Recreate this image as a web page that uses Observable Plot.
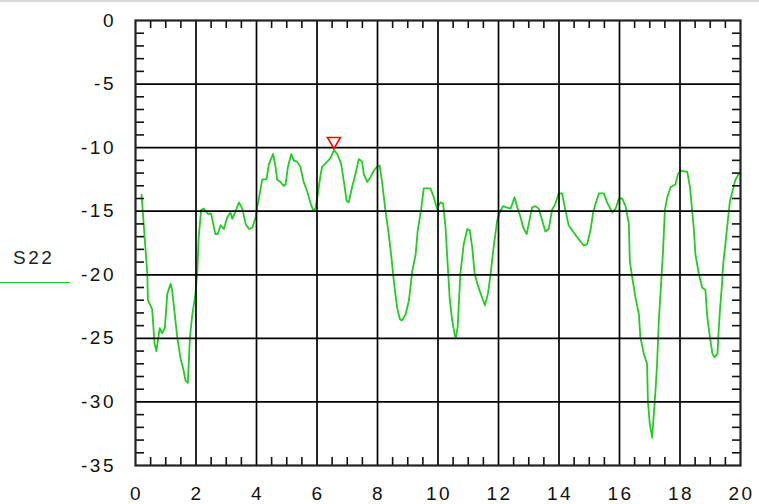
<!DOCTYPE html>
<html>
<head>
<meta charset="utf-8">
<script src="https://cdn.jsdelivr.net/npm/d3@7"></script>
<script src="https://cdn.jsdelivr.net/npm/@observablehq/plot@0.6"></script>
<style>
  body { margin: 0; background: #fff; }
  #wrap { position: relative; width: 759px; height: 504px; overflow: hidden; }
  #topbar { position: absolute; left: 0; top: 0; width: 759px; height: 2px; background: #d9d9d9; }
  #legend-label { position: absolute; left: 13px; top: 247px; font: 19px "Liberation Sans", Arial, sans-serif; letter-spacing: 2.5px; color: #222; }
  #legend-line { position: absolute; left: 0; top: 281.5px; width: 70px; height: 1.8px; background: #22cc22; }
  .chart g[aria-label$="tick label"] text { letter-spacing: 2.5px; }
</style>
</head>
<body>
<div id="wrap"><div id="topbar"></div></div>
<script>
// Frequency (x) values
const freq = [0.2,0.25,0.3,0.39,0.41,0.55,0.63,0.69,0.8,0.88,0.97,1.05,1.16,1.21,1.38,1.49,1.58,1.65,1.73,1.8,1.87,1.98,2.04,2.09,2.17,2.25,2.39,2.5,2.64,2.72,2.81,2.92,3.03,3.14,3.2,3.31,3.42,3.53,3.64,3.75,3.86,3.97,4.02,4.08,4.19,4.33,4.41,4.46,4.55,4.63,4.68,4.79,4.9,4.96,5.04,5.15,5.23,5.34,5.45,5.56,5.67,5.79,5.87,5.95,6.03,6.12,6.17,6.34,6.45,6.56,6.67,6.8,6.89,6.98,7.05,7.16,7.27,7.38,7.49,7.55,7.66,7.77,7.88,7.99,8.07,8.15,8.26,8.37,8.45,8.54,8.65,8.74,8.81,8.93,9.04,9.15,9.26,9.33,9.44,9.53,9.64,9.75,9.86,9.97,10.08,10.17,10.25,10.3,10.39,10.47,10.55,10.59,10.65,10.74,10.85,10.97,11.05,11.13,11.21,11.3,11.4,11.55,11.65,11.74,11.85,11.96,12.04,12.15,12.26,12.4,12.53,12.62,12.73,12.82,12.93,13.0,13.11,13.22,13.33,13.44,13.55,13.66,13.77,13.88,13.99,14.1,14.21,14.32,14.49,14.65,14.82,14.93,15.04,15.13,15.21,15.32,15.48,15.59,15.76,15.87,15.98,16.09,16.2,16.31,16.34,16.42,16.53,16.64,16.69,16.8,16.91,16.94,17.0,17.08,17.13,17.19,17.24,17.3,17.38,17.44,17.5,17.58,17.69,17.85,17.93,18.02,18.24,18.33,18.4,18.46,18.51,18.62,18.73,18.84,18.9,18.99,19.07,19.14,19.24,19.27,19.32,19.38,19.43,19.49,19.57,19.65,19.74,19.82,19.93,20.0];
// S22 (dB) values
const s22 = [-13.7,-15.3,-17.0,-19.9,-22.0,-22.7,-25.4,-26.0,-24.2,-24.6,-24.2,-21.5,-20.7,-21.2,-24.9,-26.6,-27.4,-28.3,-28.5,-24.9,-23.3,-21.5,-19.9,-17.0,-14.9,-14.8,-15.2,-15.2,-16.8,-16.8,-16.1,-16.4,-15.5,-15.1,-15.6,-15.0,-14.3,-14.8,-16.0,-16.4,-16.3,-15.5,-14.7,-14.0,-12.5,-12.5,-11.3,-11.0,-10.5,-11.5,-12.5,-12.7,-13.0,-12.9,-11.5,-10.5,-11.0,-11.1,-11.5,-12.7,-13.4,-14.4,-14.9,-14.8,-13.6,-12.1,-11.5,-11.1,-10.8,-10.2,-10.5,-11.3,-12.7,-14.2,-14.3,-13.1,-12.1,-10.9,-11.1,-12.1,-12.7,-12.3,-11.8,-11.5,-11.4,-12.7,-14.9,-16.8,-18.4,-20.5,-22.6,-23.5,-23.6,-23.1,-22.0,-19.7,-18.4,-16.5,-14.9,-13.2,-13.2,-13.2,-13.9,-14.8,-14.3,-14.4,-16.3,-18.4,-22.0,-23.6,-24.7,-25.0,-24.1,-19.9,-17.6,-16.4,-16.5,-17.8,-19.9,-20.7,-21.4,-22.4,-21.5,-19.9,-17.6,-15.7,-15.1,-14.6,-14.7,-14.8,-13.9,-14.7,-15.5,-16.3,-16.8,-16.0,-14.7,-14.6,-14.8,-15.7,-16.6,-16.4,-14.9,-14.4,-13.6,-13.6,-14.9,-16.1,-16.7,-17.2,-17.7,-17.6,-16.5,-15.1,-14.4,-13.6,-13.6,-14.3,-15.1,-14.8,-14.0,-14.0,-14.6,-16.0,-18.9,-20.2,-21.8,-23.1,-24.9,-26.2,-27.0,-30.0,-31.7,-32.8,-31.1,-29.1,-27.1,-23.6,-20.5,-18.1,-14.9,-13.9,-13.1,-12.9,-12.1,-11.8,-11.9,-13.1,-14.9,-16.5,-18.4,-19.9,-21.0,-21.2,-23.3,-24.9,-26.2,-26.5,-26.2,-24.7,-22.8,-21.0,-19.1,-17.8,-16.0,-14.2,-13.4,-12.6,-12.1,-12.0];
// Marker position (peak)
const markerX = [6.56];
const markerY = [-10.2];
// Series name
const seriesName = "S22";
// Axis ticks and labels
const xTicks = [0,2,4,6,8,10,12,14,16,18,20];
const xTickLabels = ["0","2","4","6","8","10","12","14","16","18","20"];
const yTicks = [0,-5,-10,-15,-20,-25,-30,-35];
const yTickLabels = ["0","-5","-10","-15","-20","-25","-30","-35"];
const xGrid = [2,4,6,8,10,12,14,16,18];
const yGrid = [-5,-10,-15,-20,-25,-30];
const xMinor = d3.range(0, 20.01, 0.5).filter(v => v % 2 !== 0);
const yMinor = d3.range(-35, 0.01, 1).filter(v => v % 5 !== 0);

const series = freq.map((f, i) => ({f, v: s22[i]}));
const marker = markerX.map((x, i) => ({x, y: markerY[i]}));

const W = 759, H = 504, ML = 135, MR = 19, MT = 20, MB = 39;
const FW = W - ML - MR, FH = H - MT - MB;

const chart = Plot.plot({
  width: W, height: H,
  marginLeft: ML, marginRight: MR, marginTop: MT, marginBottom: MB,
  className: "chart",
  x: {domain: [0, 20]},
  y: {domain: [-35, 0]},
  style: {fontFamily: "'Liberation Sans', Arial, sans-serif", fontSize: "19px", color: "#111", background: "transparent"},
  marks: [
    Plot.line(series, {x: "f", y: "v", stroke: "#22cc22", strokeWidth: 1.8}),
    Plot.ruleX(xGrid, {stroke: "#000", strokeWidth: 1.7}),
    Plot.ruleY(yGrid, {stroke: "#000", strokeWidth: 1.7}),
    Plot.ruleX(xMinor, {stroke: "#111", strokeWidth: 1.6, insetBottom: FH - 8}),
    Plot.ruleX(xMinor, {stroke: "#111", strokeWidth: 1.6, insetTop: FH - 8}),
    Plot.ruleY(yMinor, {stroke: "#111", strokeWidth: 1.6, insetRight: FW - 9}),
    Plot.ruleY(yMinor, {stroke: "#111", strokeWidth: 1.6, insetLeft: FW - 8}),
    Plot.frame({stroke: "#222", strokeWidth: 2.2}),
    Plot.dot(marker, {x: "x", y: "y", symbol: "triangle", rotate: 180, r: 4.8, stroke: "#ff0000", fill: "#ffffff", strokeWidth: 1.6, dy: -9}),
    Plot.axisX({ticks: xTicks, tickSize: 0, tickPadding: 21, dx: 1, tickFormat: (d) => xTickLabels[xTicks.indexOf(d)], fill: "#111"}),
    Plot.axisY({ticks: yTicks, tickSize: 0, tickPadding: 19.5, tickFormat: (d) => yTickLabels[yTicks.indexOf(d)], fill: "#111"})
  ]
});

const wrap = document.getElementById("wrap");
chart.style.position = "absolute";
chart.style.left = "0px";
chart.style.top = "0px";
wrap.appendChild(chart);

const lbl = document.createElement("div");
lbl.id = "legend-label";
lbl.textContent = seriesName;
wrap.appendChild(lbl);
const ln = document.createElement("div");
ln.id = "legend-line";
wrap.appendChild(ln);
</script>
</body>
</html>
